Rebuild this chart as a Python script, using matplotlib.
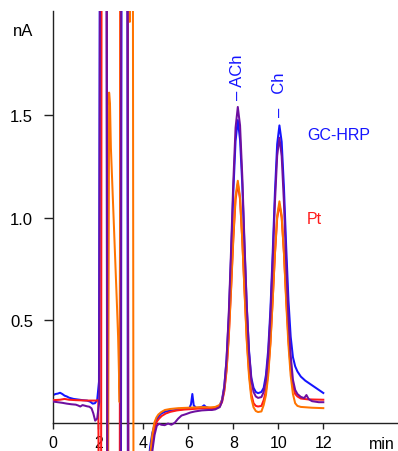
import matplotlib
matplotlib.use('Agg')
import matplotlib.pyplot as plt

# ---------------- data ----------------
peak_t = [7.2, 7.4, 7.5, 7.6, 7.7, 7.8, 7.9, 8.0, 8.1, 8.2, 8.3, 8.4, 8.5, 8.6, 8.7, 8.8, 8.9, 9.0, 9.1,
          9.25, 9.35, 9.45, 9.55, 9.65, 9.75, 9.85, 9.95, 10.05, 10.15, 10.25, 10.35, 10.45, 10.55, 10.65,
          10.75, 10.85, 11.0]

# GC-HRP (blue)
blue_t = [0.0, 0.1, 0.2, 0.3, 0.4, 0.5, 0.6, 0.7, 0.9, 1.1, 1.3, 1.5, 1.65, 1.75, 1.85, 1.95, 2.03, 2.08,
          2.36, 2.4, 3.0, 3.04, 3.28, 3.32, 4.1, 4.2, 4.3, 4.4, 4.5, 4.6, 4.7, 4.8, 5.0, 5.3, 5.6, 5.9,
          6.05, 6.12, 6.18, 6.24, 6.35, 6.5, 6.62, 6.7, 6.78, 6.9, 7.05] + peak_t + [11.2, 11.4, 11.6, 11.8, 12.0]
blue_nA = [0.135, 0.14, 0.142, 0.146, 0.14, 0.132, 0.128, 0.122, 0.116, 0.113, 0.11, 0.108, 0.102, 0.093,
           0.095, 0.11, 0.2, 3.0, 3.0, -1.0, -1.0, 3.0, 3.0, -1.0, -1.0, -0.25, -0.12, -0.05, -0.01, 0.015,
           0.033, 0.045, 0.055, 0.06, 0.064, 0.068, 0.072, 0.09, 0.14, 0.085, 0.072, 0.074, 0.078, 0.085,
           0.077, 0.072, 0.071,
           0.072, 0.085, 0.113, 0.178, 0.307, 0.518, 0.808, 1.123, 1.373, 1.476, 1.38, 1.16, 0.85, 0.56,
           0.35, 0.22, 0.17, 0.15, 0.144,
           0.15, 0.17, 0.232, 0.353, 0.552, 0.826, 1.123, 1.359, 1.45, 1.37, 1.15, 0.86, 0.60, 0.42, 0.32,
           0.275, 0.25, 0.225,
           0.205, 0.19, 0.175, 0.16, 0.145]

# Pt (red)
red_t = [0.0, 0.3, 0.5, 0.7, 1.0, 1.5, 1.9, 2.0, 2.05, 2.12, 2.15, 2.37, 2.4, 2.95, 2.98, 3.3, 3.34,
         4.2, 4.3, 4.4, 4.5, 4.6, 4.7, 4.82, 5.0, 5.2, 5.5, 5.8, 6.2, 6.6, 7.0] + peak_t + [11.3, 11.6, 12.0]
red_nA = [0.11, 0.112, 0.116, 0.112, 0.11, 0.108, 0.108, 0.11, -1.0, -1.0, 3.0, 3.0, -1.0, -1.0, 3.0,
          3.0, -1.0, -1.0, -0.25, -0.1, -0.03, 0.005, 0.02, 0.033, 0.045, 0.053, 0.06, 0.064, 0.067, 0.07,
          0.068,
          0.07, 0.08, 0.101, 0.153, 0.253, 0.419, 0.646, 0.893, 1.089, 1.165, 1.09, 0.89, 0.645, 0.41,
          0.245, 0.14, 0.095, 0.082, 0.079,
          0.082, 0.11, 0.156, 0.246, 0.395, 0.599, 0.821, 0.997, 1.065, 1.0, 0.83, 0.61, 0.41, 0.26, 0.18,
          0.14, 0.128, 0.118,
          0.114, 0.113, 0.112]

# purple trace
purple_t = [0.0, 0.2, 0.4, 0.6, 0.8, 1.0, 1.1, 1.2, 1.3, 1.4, 1.5, 1.6, 1.7, 1.78, 1.86, 1.95, 2.04, 2.09,
            2.37, 2.41, 2.99, 3.02, 3.3, 3.34, 4.2, 4.3, 4.4, 4.5, 4.6, 4.7, 4.8, 4.95, 5.1, 5.25, 5.4,
            5.55, 5.7, 5.9, 6.1, 6.3, 6.6, 6.9, 7.05] + peak_t + [11.15, 11.25, 11.35, 11.5, 11.8, 12.0]
purple_nA = [0.103, 0.1, 0.097, 0.093, 0.09, 0.088, 0.084, 0.079, 0.086, 0.083, 0.08, 0.078, 0.07, 0.045,
             0.01, 0.02, 0.1, 3.0, 3.0, -1.0, -1.0, 3.0, 3.0, -1.0, -1.0, -0.3, -0.14, -0.06, -0.015,
             -0.005, -0.01, -0.012, -0.004, -0.01, 0.0, 0.02, 0.035, 0.042, 0.05, 0.055, 0.06, 0.062, 0.062,
             0.065, 0.076, 0.105, 0.174, 0.31, 0.534, 0.84, 1.173, 1.438, 1.54, 1.45, 1.2, 0.87, 0.57,
             0.34, 0.21, 0.15, 0.128, 0.121,
             0.125, 0.15, 0.209, 0.326, 0.52, 0.785, 1.073, 1.302, 1.39, 1.30, 1.075, 0.78, 0.52, 0.33,
             0.21, 0.16, 0.14, 0.126,
             0.12, 0.135, 0.115, 0.105, 0.1, 0.1]

# orange trace
orange_t = [2.42, 2.48, 2.52, 2.56, 2.68, 2.82, 2.88, 2.95, 3.01, 3.36, 3.4, 3.44, 3.53, 3.57, 4.2, 4.3,
            4.4, 4.49, 4.58, 4.67, 4.8, 4.96, 5.2, 5.56, 6.0, 6.6, 7.0] + peak_t + [11.5, 12.0]
orange_nA = [-1.0, 1.61, 1.55, 1.34, 1.0, 0.6, 0.42, 0.1, 3.0, 3.0, 1.955, 3.0, 3.0, -1.0, -1.0, -0.16,
             -0.06, 0.0, 0.025, 0.04, 0.052, 0.062, 0.067, 0.071, 0.073, 0.076, 0.075,
             0.077, 0.087, 0.109, 0.16, 0.262, 0.429, 0.657, 0.906, 1.104, 1.18, 1.10, 0.89, 0.635, 0.395,
             0.225, 0.12, 0.075, 0.057, 0.052,
             0.055, 0.086, 0.134, 0.228, 0.383, 0.595, 0.826, 1.009, 1.08, 1.01, 0.83, 0.59, 0.38, 0.23,
             0.14, 0.095, 0.082, 0.077,
             0.073, 0.071]

x_ticks = [0, 2, 4, 6, 8, 10, 12]
x_tick_labels = ['0', '2', '4', '6', '8', '10', '12']
y_ticks = [0.5, 1.0, 1.5]
y_tick_labels = ['0.5', '1.0', '1.5']

peak_names = ['ACh', 'Ch']
peak_times = [8.2, 10.05]
peak_label_y = [1.58, 1.495]
peak_label_text = ['\u2013 ACh', '\u2013   Ch']

# ---------------- styling ----------------
plt.rcParams['font.family'] = ['Liberation Sans', 'DejaVu Sans']
BLUE = '#1414ff'
RED = '#ff1a1a'
PURPLE = '#6e0fa0'
ORANGE = '#ff7400'
FS = 12

W, H = 398, 452
fig = plt.figure(figsize=(W / 100, H / 100), dpi=100)
left = 53.3 / W
top = 1 - 12 / H
ax = fig.add_axes([left, 0.0, 1 - left, top])

lw = 1.45
ax.plot(blue_t, blue_nA, color=BLUE, lw=lw, zorder=2)
ax.plot(red_t, red_nA, color=RED, lw=lw, zorder=3)
ax.plot(orange_t, orange_nA, color=ORANGE, lw=lw, zorder=4)
ax.plot(purple_t, purple_nA, color=PURPLE, lw=lw, zorder=5)

ax.set_xlim(0, (W - 53.3) / 22.5)
ax.set_ylim(-0.138, 2.008)

for s in ['top', 'right']:
    ax.spines[s].set_visible(False)
ax.spines['bottom'].set_position(('data', 0))
ax.spines['left'].set_bounds(0, 2.008)
for s in ['left', 'bottom']:
    ax.spines[s].set_color('#222222')
    ax.spines[s].set_linewidth(1.0)

ax.set_xticks(x_ticks)
ax.set_xticklabels(x_tick_labels)
ax.set_yticks(y_ticks)
ax.set_yticklabels(y_tick_labels)
ax.tick_params(axis='x', direction='out', length=4.3, width=1, pad=4.5, labelsize=11.5, color='#222222')
ax.tick_params(axis='y', direction='out', length=6.5, width=1, pad=8, labelsize=FS, color='#222222')

ax.text(14.6, -0.125, 'min', ha='center', va='baseline', fontsize=11.5)
fig.text(22.7 / W, 1 - 31.5 / H, 'nA', ha='center', va='center', fontsize=FS)

for t, y, txt in zip(peak_times, peak_label_y, peak_label_text):
    ax.text(t, y, txt, rotation=90, ha='center', va='bottom', color=BLUE, fontsize=FS)

ax.text(11.28, 1.406, 'GC-HRP', ha='left', va='center', color=BLUE, fontsize=11.5)
ax.text(11.28, 0.994, 'Pt', ha='left', va='center', color=RED, fontsize=11.5)

fig.savefig('out.png', dpi=100)
